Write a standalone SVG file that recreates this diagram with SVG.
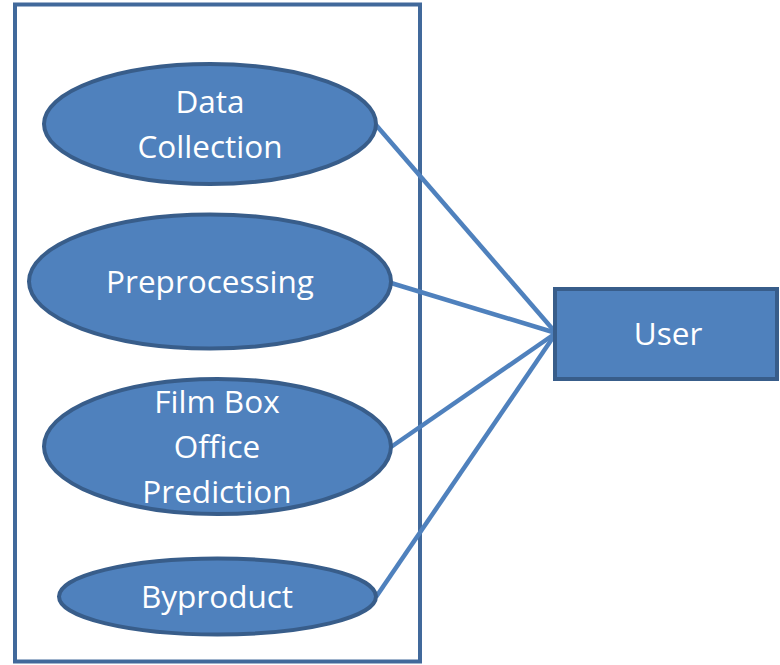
<svg xmlns="http://www.w3.org/2000/svg" width="780" height="665" viewBox="0 0 780 665">
  <style>
    .frame { fill: #ffffff; stroke: #41699b; stroke-width: 4; }
    .usecase { fill: #4f81bd; stroke: #385d8a; stroke-width: 4; }
    .actor { fill: #4f81bd; stroke: #385d8a; stroke-width: 4; }
    .link { stroke: #4f81bd; stroke-width: 4.5; fill: none; }
    .label { fill: #ffffff; font-family: "Open Sans", "Liberation Sans", sans-serif; font-size: 31.5px; text-anchor: middle; }
  </style>
  <rect width="780" height="665" fill="#ffffff"/>

  <!-- system boundary -->
  <rect class="frame" x="15" y="4.5" width="405" height="657"/>

  <!-- associations to the actor -->
  <g id="connectors">
    <line class="link" x1="376" y1="125" x2="556" y2="333"/>
    <line class="link" x1="391" y1="283" x2="556" y2="333"/>
    <line class="link" x1="391" y1="447" x2="556" y2="333"/>
    <line class="link" x1="376" y1="597" x2="556" y2="333"/>
  </g>

  <g id="data-collection">
    <ellipse class="usecase" cx="210" cy="124" rx="166" ry="60"/>
    <text class="label" x="210" y="113">Data</text>
    <text class="label" x="210" y="158">Collection</text>
  </g>

  <g id="preprocessing">
    <ellipse class="usecase" cx="210" cy="281.5" rx="181" ry="67"/>
    <text class="label" x="210" y="293">Preprocessing</text>
  </g>

  <g id="box-office-prediction">
    <ellipse class="usecase" cx="217.5" cy="446.5" rx="173.5" ry="67.5"/>
    <text class="label" x="217" y="413">Film Box</text>
    <text class="label" x="217" y="458">Office</text>
    <text class="label" x="217" y="503">Prediction</text>
  </g>

  <g id="byproduct">
    <ellipse class="usecase" cx="217.5" cy="596.5" rx="158.5" ry="38"/>
    <text class="label" x="217" y="608">Byproduct</text>
  </g>

  <g id="user">
    <rect class="actor" x="555" y="289" width="222" height="90"/>
    <text class="label" x="668" y="345">User</text>
  </g>
</svg>
